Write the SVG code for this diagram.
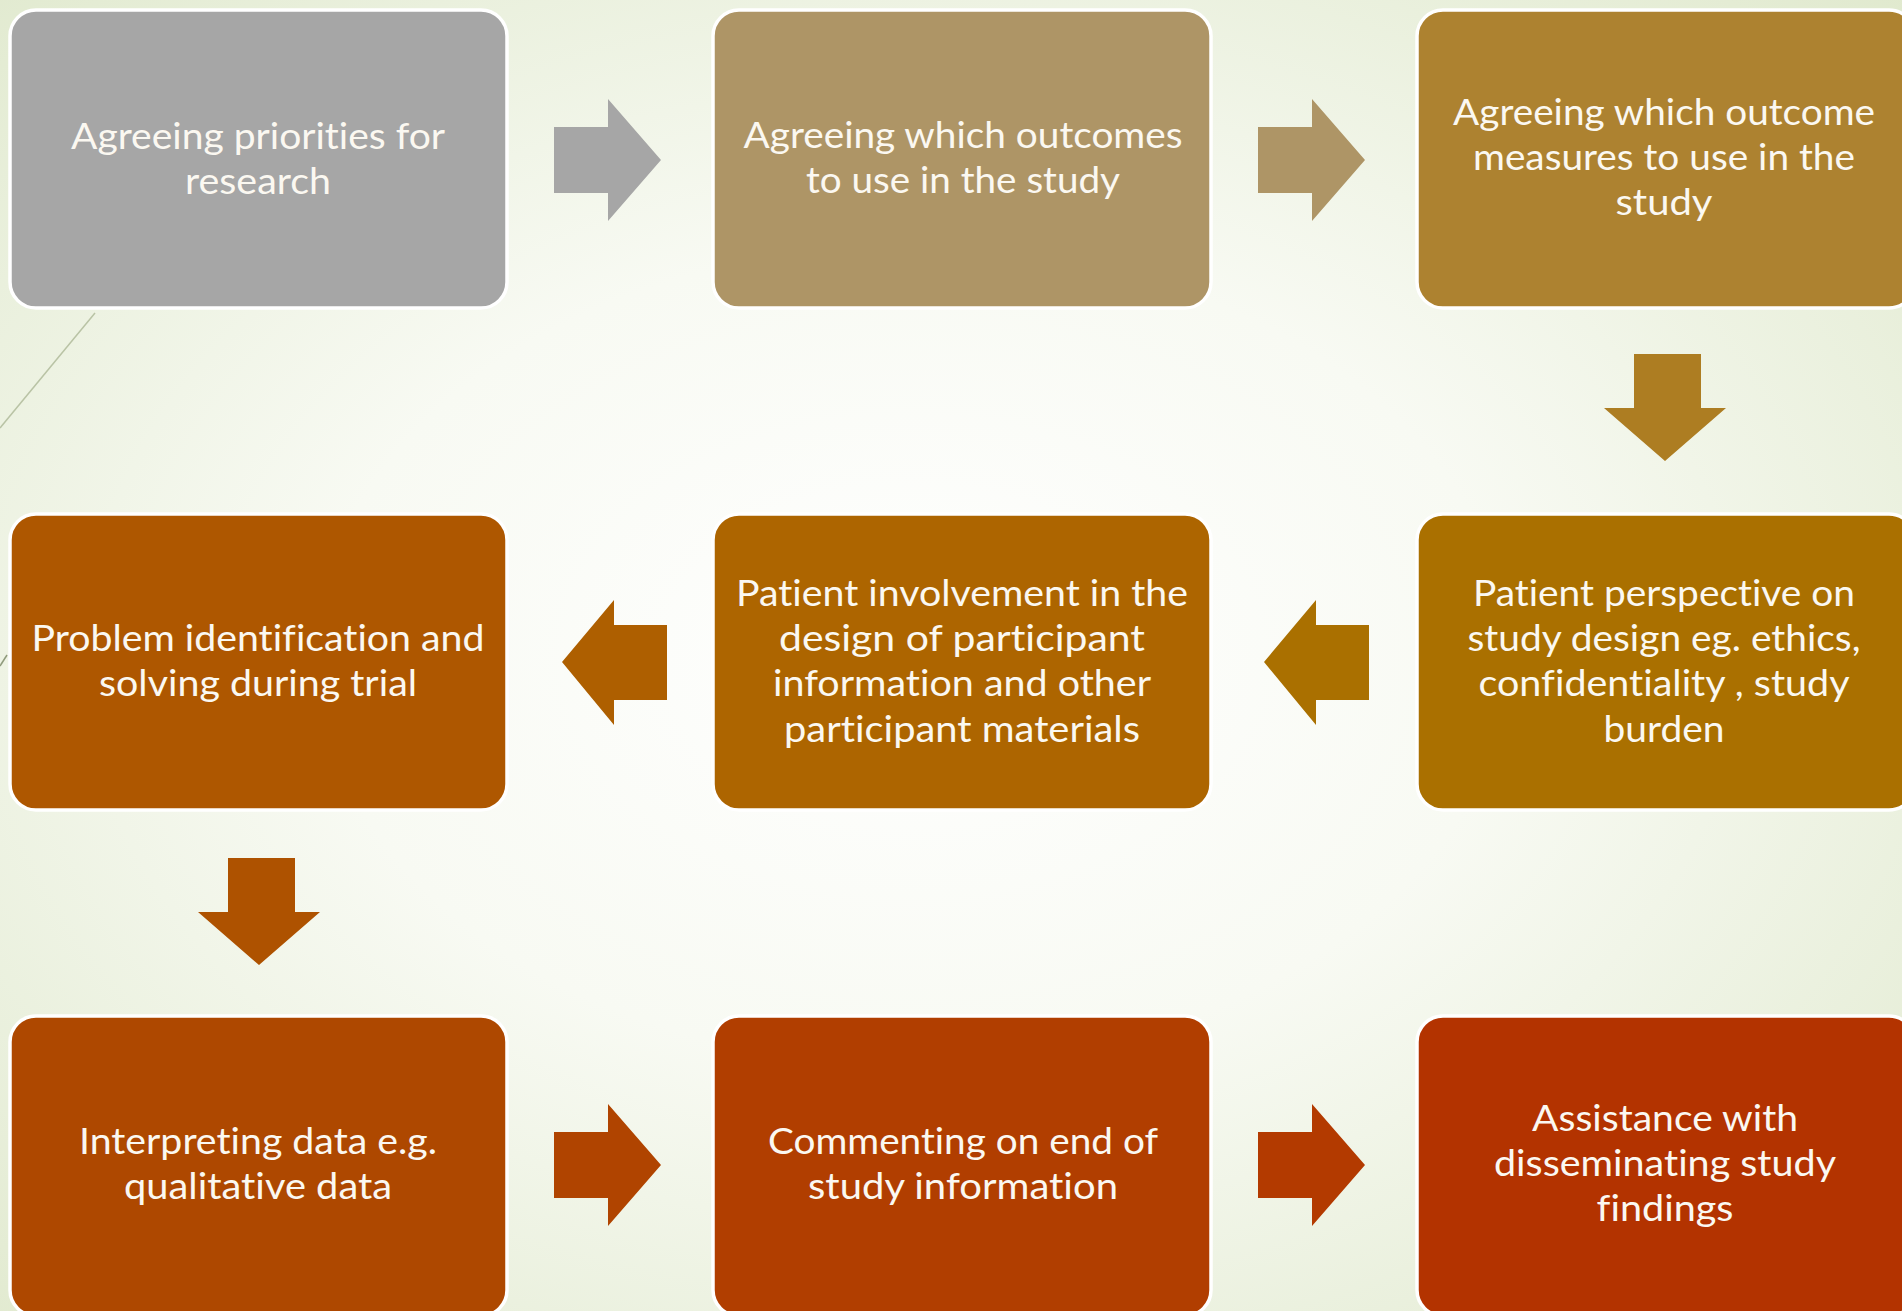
<svg xmlns="http://www.w3.org/2000/svg" width="1902" height="1311" viewBox="0 0 1902 1311">
  <defs>
    <radialGradient id="bg" cx="0.48" cy="0.5" r="0.78" fx="0.48" fy="0.5">
      <stop offset="0" stop-color="#ffffff"/>
      <stop offset="0.4" stop-color="#f8faf3"/>
      <stop offset="1" stop-color="#dde7c9"/>
    </radialGradient>
    <style>
      .box { stroke: #ffffff; stroke-width: 3.5; }
      .lbl { font-family: Lato, "Open Sans", sans-serif; font-size: 37px; fill: #fbf8f1; text-anchor: middle; font-variant-ligatures: none; font-feature-settings: "liga" 0, "clig" 0; }
    </style>
    <!-- arrow shapes, drawn pointing right / left / down from origin -->
    <path id="arrowR" d="M0,28 H54 V0 L107,61 L54,122 V94 H0 Z"/>
    <path id="arrowL" d="M105,25 H52 V0 L0,62 L52,125 V100 H105 Z"/>
    <path id="arrowD" d="M30,0 H97 V54 H122 L61,107 L0,54 H30 Z"/>
  </defs>

  <rect width="1902" height="1311" fill="url(#bg)"/>

  <!-- theme decoration lines -->
  <line x1="95" y1="313" x2="0" y2="428" stroke="#b9c3a5" stroke-width="1.5"/>
  <line x1="0" y1="666" x2="7" y2="655" stroke="#8f9a7c" stroke-width="1.5"/>

  <g id="connectors">
    <use href="#arrowR" x="554" y="99" fill="#a6a6a6"/>
    <use href="#arrowR" x="1258" y="99" fill="#ae9566"/>
    <use href="#arrowD" x="1604" y="354" fill="#ad7d22"/>
    <use href="#arrowL" x="1264" y="600" fill="#aa7000"/>
    <use href="#arrowL" x="562" y="600" fill="#ae5f00"/>
    <use href="#arrowD" x="198" y="858" fill="#ae5200"/>
    <use href="#arrowR" x="554" y="1104" fill="#b04400"/>
    <use href="#arrowR" x="1258" y="1104" fill="#b33a00"/>
  </g>

  <g id="n1">
    <rect class="box" x="10" y="10" width="497" height="298" rx="26" fill="#a6a6a6"/>
    <text class="lbl" x="258" y="149" textLength="374" lengthAdjust="spacingAndGlyphs">Agreeing priorities for</text>
    <text class="lbl" x="258" y="194" textLength="146" lengthAdjust="spacingAndGlyphs">research</text>
  </g>

  <g id="n2">
    <rect class="box" x="713" y="10" width="498" height="298" rx="26" fill="#ae9566"/>
    <text class="lbl" x="963" y="148" textLength="439" lengthAdjust="spacingAndGlyphs">Agreeing which outcomes</text>
    <text class="lbl" x="963" y="193" textLength="314" lengthAdjust="spacingAndGlyphs">to use in the study</text>
  </g>

  <g id="n3">
    <rect class="box" x="1417" y="10" width="498" height="298" rx="26" fill="#ad8230"/>
    <text class="lbl" x="1664" y="125" textLength="422" lengthAdjust="spacingAndGlyphs">Agreeing which outcome</text>
    <text class="lbl" x="1664" y="170" textLength="382" lengthAdjust="spacingAndGlyphs">measures to use in the</text>
    <text class="lbl" x="1664" y="215" textLength="97" lengthAdjust="spacingAndGlyphs">study</text>
  </g>

  <g id="n4">
    <rect class="box" x="1417" y="514" width="498" height="296" rx="26" fill="#aa7000"/>
    <text class="lbl" x="1664" y="606" textLength="382" lengthAdjust="spacingAndGlyphs">Patient perspective on</text>
    <text class="lbl" x="1664" y="651" textLength="393" lengthAdjust="spacingAndGlyphs">study design eg. ethics,</text>
    <text class="lbl" x="1664" y="696" textLength="371" lengthAdjust="spacingAndGlyphs">confidentiality , study</text>
    <text class="lbl" x="1664" y="742" textLength="121" lengthAdjust="spacingAndGlyphs">burden</text>
  </g>

  <g id="n5">
    <rect class="box" x="713" y="514" width="498" height="296" rx="26" fill="#ad6500"/>
    <text class="lbl" x="962" y="606" textLength="452" lengthAdjust="spacingAndGlyphs">Patient involvement in the</text>
    <text class="lbl" x="962" y="651" textLength="366" lengthAdjust="spacingAndGlyphs">design of participant</text>
    <text class="lbl" x="962" y="696" textLength="378" lengthAdjust="spacingAndGlyphs">information and other</text>
    <text class="lbl" x="962" y="742" textLength="356" lengthAdjust="spacingAndGlyphs">participant materials</text>
  </g>

  <g id="n6">
    <rect class="box" x="10" y="514" width="497" height="296" rx="26" fill="#ae5700"/>
    <text class="lbl" x="258" y="651" textLength="453" lengthAdjust="spacingAndGlyphs">Problem identification and</text>
    <text class="lbl" x="258" y="696" textLength="318" lengthAdjust="spacingAndGlyphs">solving during trial</text>
  </g>

  <g id="n7">
    <rect class="box" x="10" y="1016" width="497" height="300" rx="26" fill="#ae4800"/>
    <text class="lbl" x="258" y="1154" textLength="358" lengthAdjust="spacingAndGlyphs">Interpreting data e.g.</text>
    <text class="lbl" x="258" y="1199" textLength="268" lengthAdjust="spacingAndGlyphs">qualitative data</text>
  </g>

  <g id="n8">
    <rect class="box" x="713" y="1016" width="498" height="300" rx="26" fill="#b13e00"/>
    <text class="lbl" x="963" y="1154" textLength="390" lengthAdjust="spacingAndGlyphs">Commenting on end of</text>
    <text class="lbl" x="963" y="1199" textLength="310" lengthAdjust="spacingAndGlyphs">study information</text>
  </g>

  <g id="n9">
    <rect class="box" x="1417" y="1016" width="498" height="300" rx="26" fill="#b33300"/>
    <text class="lbl" x="1665" y="1131" textLength="266" lengthAdjust="spacingAndGlyphs">Assistance with</text>
    <text class="lbl" x="1665" y="1176" textLength="342" lengthAdjust="spacingAndGlyphs">disseminating study</text>
    <text class="lbl" x="1665" y="1221" textLength="137" lengthAdjust="spacingAndGlyphs">findings</text>
  </g>
</svg>
